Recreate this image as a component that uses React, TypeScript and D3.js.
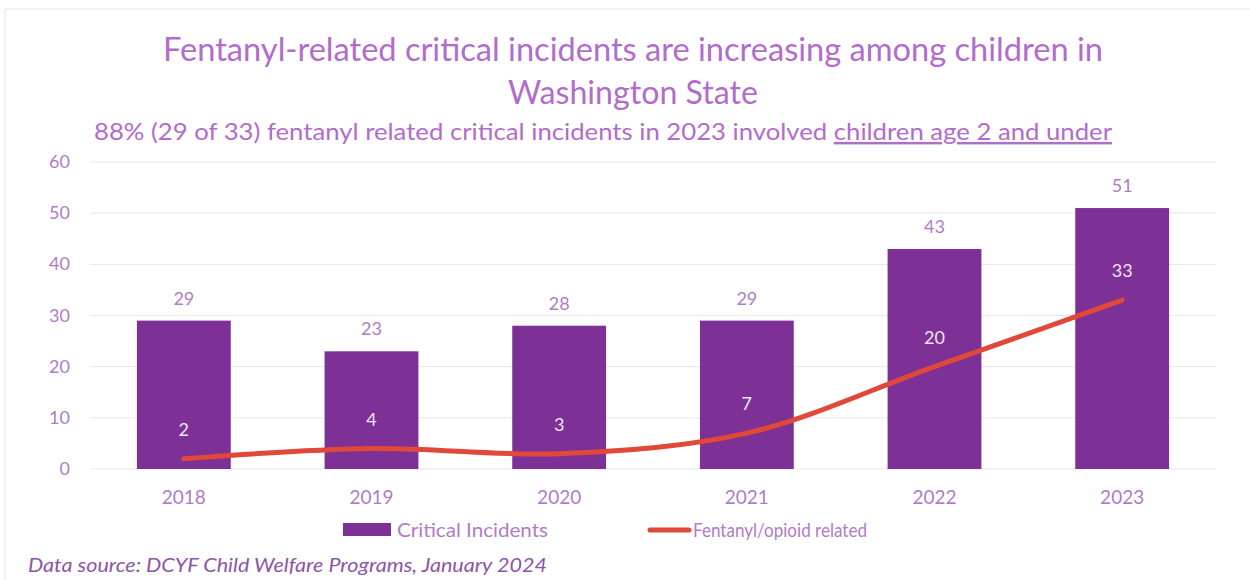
import React from "react";
import * as d3 from "d3";

const years = ["2018", "2019", "2020", "2021", "2022", "2023"];
const criticalIncidents = [29, 23, 28, 29, 43, 51];
const fentanylRelated = [2, 4, 3, 7, 20, 33];
const yTicks = [0, 10, 20, 30, 40, 50, 60];

const W = 1250;
const H = 580;
const FONT = "Lato, 'Open Sans', sans-serif";
const BAR = "#7d3096";
const LINE = "#e0483a";
const TXT = "#b07cc6";
const TITLE = "#b26ccc";

export default function App() {
  const x = d3.scaleBand().domain(years).range([90, 1216]).paddingInner(0.5).paddingOuter(0.25);
  const y = d3.scaleLinear().domain([0, 60]).range([469, 162]);
  const line = d3
    .line<number>()
    .x((_, i) => (x(years[i]) as number) + x.bandwidth() / 2)
    .y((d) => y(d))
    .curve(d3.curveCatmullRom.alpha(0.5));

  return (
    <svg width={W} height={H} style={{ position: "absolute", left: 0, top: 0, background: "#fff" }}>
      <rect x={5} y={9} width={1260} height={600} fill="#fff" stroke="#e6e2ea" strokeWidth={1} />
      <text x={633} y={61} textAnchor="middle" fontFamily={FONT} fontSize={32} fill={TITLE} textLength={940} lengthAdjust="spacingAndGlyphs">
        Fentanyl-related critical incidents are increasing among children in
      </text>
      <text x={633} y={104} textAnchor="middle" fontFamily={FONT} fontSize={32} fill={TITLE} textLength={250} lengthAdjust="spacingAndGlyphs">
        Washington State
      </text>
      <text x={603} y={140} textAnchor="middle" fontFamily={FONT} fontSize={24} fill={TITLE} textLength={1018} lengthAdjust="spacingAndGlyphs">
        88% (29 of 33) fentanyl related critical incidents in 2023 involved{" "}
        <tspan style={{ textDecoration: "underline" }}>children age 2 and under</tspan>
      </text>
      {yTicks.map((t) => (
        <g key={t}>
          <line x1={90} x2={1216} y1={y(t)} y2={y(t)} stroke="#ebe3f0" strokeWidth={1} />
          <text x={70} y={y(t) + 6} textAnchor="end" fontFamily={FONT} fontSize={18} fill={TXT}>
            {t}
          </text>
        </g>
      ))}
      {years.map((yr, i) => (
        <g key={yr}>
          <rect x={x(yr)} y={y(criticalIncidents[i])} width={x.bandwidth()} height={y(0) - y(criticalIncidents[i])} fill={BAR} />
          <text x={(x(yr) as number) + x.bandwidth() / 2} y={y(criticalIncidents[i]) - 16} textAnchor="middle" fontFamily={FONT} fontSize={18} fill={TXT}>
            {criticalIncidents[i]}
          </text>
          <text x={(x(yr) as number) + x.bandwidth() / 2} y={504} textAnchor="middle" fontFamily={FONT} fontSize={19} fill={TXT}>
            {yr}
          </text>
        </g>
      ))}
      <path d={line(fentanylRelated) || ""} fill="none" stroke={LINE} strokeWidth={5} strokeLinecap="round" />
      {years.map((yr, i) => (
        <text key={"l" + yr} x={(x(yr) as number) + x.bandwidth() / 2} y={y(fentanylRelated[i]) - 23} textAnchor="middle" fontFamily={FONT} fontSize={18} fill="#f1e4f6">
          {fentanylRelated[i]}
        </text>
      ))}
      <rect x={343} y={523} width={48} height={13} fill={BAR} />
      <text x={397} y={537} fontFamily={FONT} fontSize={20} fill={TXT} textLength={151} lengthAdjust="spacingAndGlyphs">Critical Incidents</text>
      <line x1={650} x2={689} y1={530} y2={530} stroke={LINE} strokeWidth={5} strokeLinecap="round" />
      <text x={693} y={537} fontFamily={FONT} fontSize={19} fill={TXT} textLength={174} lengthAdjust="spacingAndGlyphs">Fentanyl/opioid related</text>
      <text x={28} y={572} fontFamily={FONT} fontSize={19} fontStyle="italic" fill="#8d55a6" textLength={519} lengthAdjust="spacingAndGlyphs">
        Data source: DCYF Child Welfare Programs, January 2024
      </text>
    </svg>
  );
}
